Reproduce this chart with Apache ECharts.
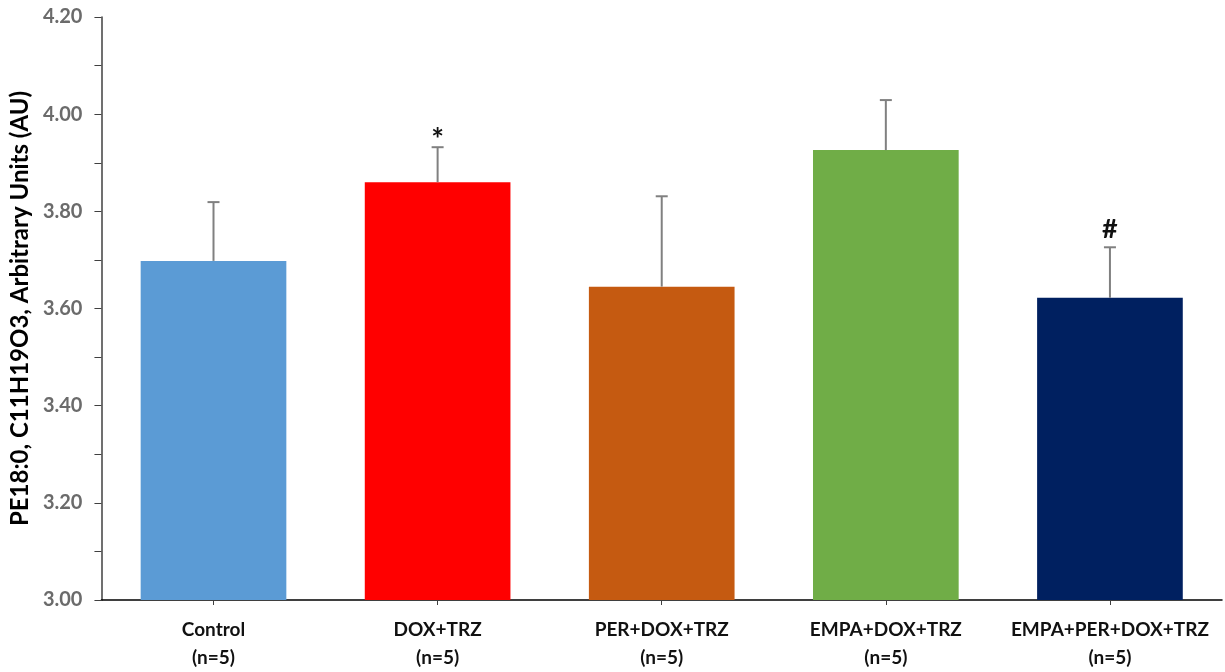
<!DOCTYPE html>
<html>
<head>
<meta charset="utf-8">
<script src="https://cdn.jsdelivr.net/npm/echarts@6/dist/echarts.min.js"></script>
<style>
html, body { margin: 0; padding: 0; background: #fff; }
#chartContainer { width: 1225px; height: 672px; }
</style>
</head>
<body>
<div id="chartContainer"></div>
<script>
// 数据
var groupNames = ['Control\n(n=5)', 'DOX+TRZ\n(n=5)', 'PER+DOX+TRZ\n(n=5)', 'EMPA+DOX+TRZ\n(n=5)', 'EMPA+PER+DOX+TRZ\n(n=5)'];
var meanValues = [3.698, 3.860, 3.645, 3.926, 3.622];
var errorTops = [3.819, 3.932, 3.831, 4.029, 3.726];
var markTexts = ['', '*', '', '', '#'];
var barColors = ['#5B9BD5', '#FF0000', '#C55A11', '#70AD47', '#002060'];

var chartFont = 'Lato, "Open Sans", sans-serif';

var myChart = echarts.init(document.getElementById('chartContainer'), null, {renderer: 'canvas'});

var barData = [];
for (var i = 0; i < meanValues.length; i++) {
	barData.push({value: meanValues[i], itemStyle: {color: barColors[i]}});
}
var errData = [];
for (var j = 0; j < meanValues.length; j++) {
	errData.push([j, meanValues[j], errorTops[j]]);
}

var option = {
	animation: false,
	grid: {left: 98, right: 3, top: 17, bottom: 72},
	xAxis: {
		type: 'category',
		data: groupNames,
		axisLine: {lineStyle: {color: '#000', width: 1.5}},
		axisTick: {show: true, alignWithLabel: true, length: 5, lineStyle: {color: '#404040'}},
		axisLabel: {
			interval: 0,
			hideOverlap: false,
			color: '#111',
			fontFamily: chartFont,
			fontWeight: 'bold',
			fontSize: 19,
			lineHeight: 28,
			margin: 16
		}
	},
	yAxis: {
		type: 'value',
		min: 3.0,
		max: 4.2,
		interval: 0.2,
		name: 'PE18:0, C11H19O3, Arbitrary Units (AU)',
		nameLocation: 'middle',
		nameGap: 68,
		nameTextStyle: {color: '#000', fontFamily: chartFont, fontWeight: 'bold', fontSize: 24},
		splitLine: {show: false},
		axisLine: {show: true, lineStyle: {color: '#404040', width: 1.5}},
		axisTick: {show: true, length: 7, lineStyle: {color: '#404040'}},
		minorTick: {show: true, splitNumber: 2, length: 7, lineStyle: {color: '#404040'}},
		axisLabel: {
			color: '#6b6b6b',
			fontFamily: chartFont,
			fontWeight: 'bold',
			fontSize: 20,
			margin: 19,
			formatter: function (v) { return v.toFixed(2); }
		}
	},
	series: [
		{
			type: 'bar',
			data: barData,
			barWidth: '65%'
		},
		{
			type: 'custom',
			data: errData,
			z: 5,
			renderItem: function (params, api) {
				var idx = api.value(0);
				var base = api.coord([idx, api.value(1)]);
				var top = api.coord([idx, api.value(2)]);
				var children = [
					{type: 'line', shape: {x1: base[0], y1: base[1], x2: top[0], y2: top[1]}, style: {stroke: '#808080', lineWidth: 2}},
					{type: 'line', shape: {x1: top[0] - 6, y1: top[1], x2: top[0] + 6, y2: top[1]}, style: {stroke: '#808080', lineWidth: 2}}
				];
				if (markTexts[idx] === '*') {
					children.push({
						type: 'text', x: top[0], y: top[1] - 7,
						style: {text: '*', fill: '#111', font: 'bold 30px ' + chartFont, textAlign: 'center', textVerticalAlign: 'middle'}
					});
				} else if (markTexts[idx]) {
					children.push({
						type: 'text', x: top[0], y: top[1] - 18,
						style: {text: markTexts[idx], fill: '#111', font: 'bold 27px ' + chartFont, textAlign: 'center', textVerticalAlign: 'middle'}
					});
				}
				return {type: 'group', children: children};
			}
		}
	]
};
myChart.setOption(option);
</script>
</body>
</html>
